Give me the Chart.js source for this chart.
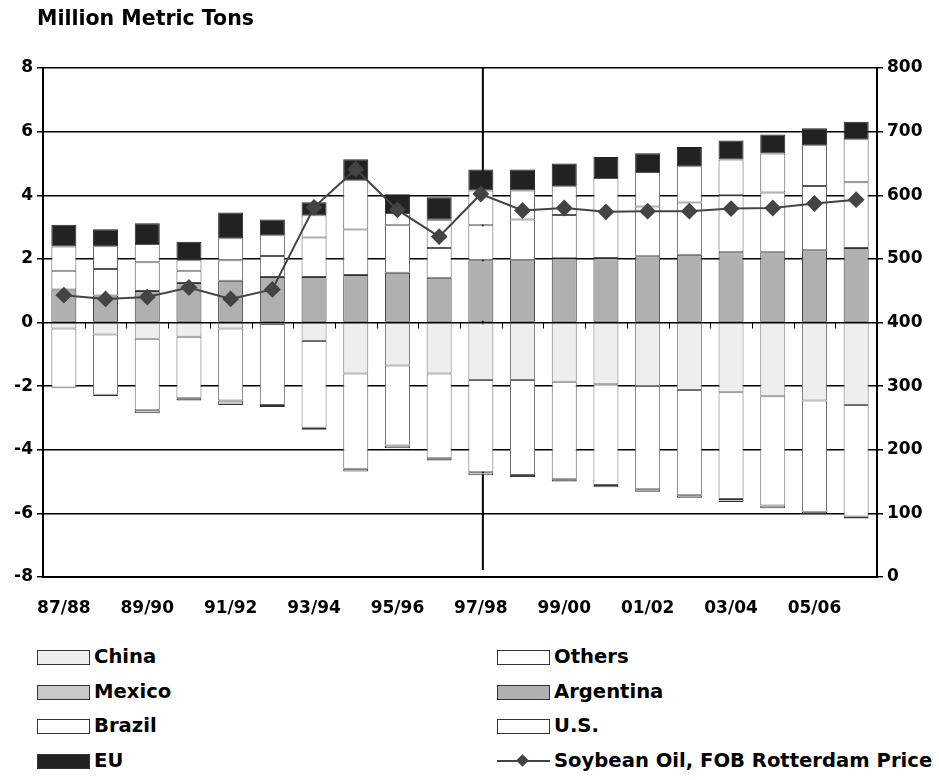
<!DOCTYPE html>
<html>
<head>
<meta charset="utf-8">
<script src="https://cdn.jsdelivr.net/npm/chart.js@4.4.1/dist/chart.umd.min.js"></script>
<style>
  body { margin: 0; background: #fff; font-family: "DejaVu Sans", Arial, sans-serif; }
  #wrap { position: relative; width: 939px; height: 780px; }
  #title { position: absolute; left: 37px; top: 6px; font-weight: bold; font-size: 20.5px; color: #000; }
  #chart { position: absolute; left: 0; top: 0; }
  .leg { position: absolute; font-weight: bold; font-size: 19.6px; color: #000; height: 22px; line-height: 22px; }
  .sw { position: absolute; left: 0; top: 4px; width: 51px; height: 13px; border: 1px solid #333; }
  .leg span { position: absolute; left: 57px; top: 0; white-space: nowrap; }
  .ln { position: absolute; left: 0; top: 10px; width: 53px; height: 2px; background: #444; }
  .dm { position: absolute; left: 21px; top: 6px; width: 9px; height: 9px; background: #444; transform: rotate(45deg); }
</style>
</head>
<body>
<div id="wrap">
  <canvas id="chart" width="939" height="630"></canvas>
  <div id="title">Million Metric Tons</div>
  <div id="legend"></div>
</div>
<script>
// marketing years
const years = ['87/88','88/89','89/90','90/91','91/92','92/93','93/94','94/95','95/96','96/97',
               '97/98','98/99','99/00','00/01','01/02','02/03','03/04','04/05','05/06','06/07'];

// exporters (positive, million metric tons)
const argentina = [1.04,0.85,0.99,1.24,1.31,1.43,1.43,1.49,1.56,1.41,1.96,1.96,2.02,2.03,2.08,2.13,2.21,2.21,2.27,2.34];
const brazil    = [0.59,0.83,0.90,0.39,0.65,0.66,1.24,1.43,1.50,0.93,1.10,1.28,1.36,2.51,1.57,1.64,1.79,1.88,2.02,2.07];
const us        = [0.76,0.72,0.58,0.33,0.69,0.65,0.70,1.55,0.38,0.89,1.09,0.91,0.90,0.00,1.08,1.14,1.12,1.22,1.28,1.35];
const eu        = [0.68,0.53,0.65,0.58,0.81,0.50,0.41,0.66,0.59,0.71,0.66,0.66,0.72,0.66,0.59,0.61,0.60,0.60,0.54,0.55];

// importers (negative)
const china  = [-0.19,-0.38,-0.51,-0.45,-0.19,-0.05,-0.58,-1.60,-1.35,-1.60,-1.81,-1.81,-1.86,-1.94,-2.00,-2.12,-2.19,-2.32,-2.45,-2.59];
const others = [-1.86,-1.89,-2.25,-1.93,-2.26,-2.54,-2.73,-3.00,-2.52,-2.67,-2.90,-2.98,-3.07,-3.17,-3.24,-3.31,-3.36,-3.43,-3.50,-3.51];
const mexico = [-0.02,-0.05,-0.09,-0.07,-0.14,-0.07,-0.06,-0.08,-0.08,-0.07,-0.09,-0.07,-0.07,-0.07,-0.08,-0.08,-0.09,-0.09,-0.07,-0.06];

// soybean oil, FOB Rotterdam ($/ton, right axis)
const price = [443,437,440,455,437,452,581,641,577,535,602,576,580,574,575,575,579,580,587,593];

const FONT = { family: '"DejaVu Sans", Arial, sans-serif', size: 17, weight: 'bold' };

function barSet(label, data, fill, border) {
  return {
    type: 'bar', label, data,
    backgroundColor: fill, borderColor: border || '#444', borderWidth: 1,
    borderSkipped: false, stack: 'trade', yAxisID: 'y', order: 1,
    barPercentage: 0.6, categoryPercentage: 1
  };
}

// projection divider at 97/98 + small ticks on the zero line
const extras = {
  id: 'extras',
  beforeDatasetsDraw(chart) {
    const { ctx, chartArea: a, scales: { x, y } } = chart;
    ctx.save();
    ctx.strokeStyle = '#000';
    ctx.lineWidth = 2;
    const px = x.getPixelForValue(10) + 2;
    ctx.beginPath();
    ctx.moveTo(px, a.top);
    ctx.lineTo(px, a.bottom - 7);
    ctx.stroke();
    const y0 = y.getPixelForValue(0);
    const step = (a.right - a.left) / years.length;
    ctx.lineWidth = 1;
    ctx.beginPath();
    for (let i = 1; i < years.length; i++) {
      const tx = Math.round(a.left + i * step) + 0.5;
      ctx.moveTo(tx, y0);
      ctx.lineTo(tx, y0 + 6);
    }
    ctx.stroke();
    ctx.restore();
  }
};

new Chart(document.getElementById('chart'), {
  data: {
    labels: years,
    datasets: [
      barSet('Argentina', argentina, '#b0b0b0', '#333'),
      barSet('Brazil', brazil, '#ffffff', '#555'),
      barSet('U.S.', us, '#ffffff', '#555'),
      barSet('EU', eu, '#222222', '#222'),
      barSet('China', china, '#eeeeee', '#777'),
      barSet('Others', others, '#ffffff', '#666'),
      barSet('Mexico', mexico, '#c8c8c8', '#333'),
      {
        type: 'line', label: 'Soybean Oil, FOB Rotterdam Price', data: price,
        yAxisID: 'y1', order: 0,
        borderColor: '#444', borderWidth: 2,
        pointStyle: 'rectRot', pointRadius: 7,
        pointBackgroundColor: '#444', pointBorderColor: '#444',
        tension: 0
      }
    ]
  },
  options: {
    responsive: false,
    animation: false,
    layout: { padding: { top: 68, left: 0, right: 0, bottom: 0 } },
    plugins: { legend: { display: false }, title: { display: false }, tooltip: { enabled: false } },
    scales: {
      x: {
        stacked: true,
        grid: { display: false, drawTicks: false },
        border: { display: true, color: '#000', width: 2 },
        ticks: {
          autoSkip: false, maxRotation: 0, minRotation: 0, padding: 21,
          color: '#000', font: FONT,
          callback: (v, i) => (i % 2 === 0 ? years[i] : '')
        },
        afterFit: (s) => { s.height = 53; }
      },
      y: {
        stacked: true, position: 'left', min: -8, max: 8,
        grid: { color: '#000', lineWidth: 1.5, tickLength: 6, tickColor: '#000' },
        border: { color: '#000', width: 2 },
        ticks: { stepSize: 2, padding: 4, color: '#000', font: FONT },
        afterFit: (s) => { s.width = 43; }
      },
      y1: {
        position: 'right', min: 0, max: 800,
        grid: { drawOnChartArea: false, tickLength: 6, tickColor: '#000', lineWidth: 1.5 },
        border: { color: '#000', width: 2 },
        ticks: { stepSize: 100, padding: 4, color: '#000', font: FONT },
        afterFit: (s) => { s.width = 62; }
      }
    }
  },
  plugins: [extras]
});

// two-column legend under the plot
const legendItems = [
  { label: 'China', fill: '#eeeeee', col: 0, row: 0 },
  { label: 'Mexico', fill: '#c8c8c8', col: 0, row: 1 },
  { label: 'Brazil', fill: '#ffffff', col: 0, row: 2 },
  { label: 'EU', fill: '#222222', col: 0, row: 3 },
  { label: 'Others', fill: '#ffffff', col: 1, row: 0 },
  { label: 'Argentina', fill: '#b0b0b0', col: 1, row: 1 },
  { label: 'U.S.', fill: '#ffffff', col: 1, row: 2 },
  { label: 'Soybean Oil, FOB Rotterdam Price', line: true, col: 1, row: 3 }
];
const legendEl = document.getElementById('legend');
legendItems.forEach(it => {
  const d = document.createElement('div');
  d.className = 'leg';
  d.style.left = (it.col ? 497 : 37) + 'px';
  d.style.top = (646 + it.row * 34.6) + 'px';
  const mark = it.line
    ? '<div class="ln"></div><div class="dm"></div>'
    : `<div class="sw" style="background:${it.fill}"></div>`;
  d.innerHTML = mark + `<span>${it.label}</span>`;
  legendEl.appendChild(d);
});
</script>
</body>
</html>
